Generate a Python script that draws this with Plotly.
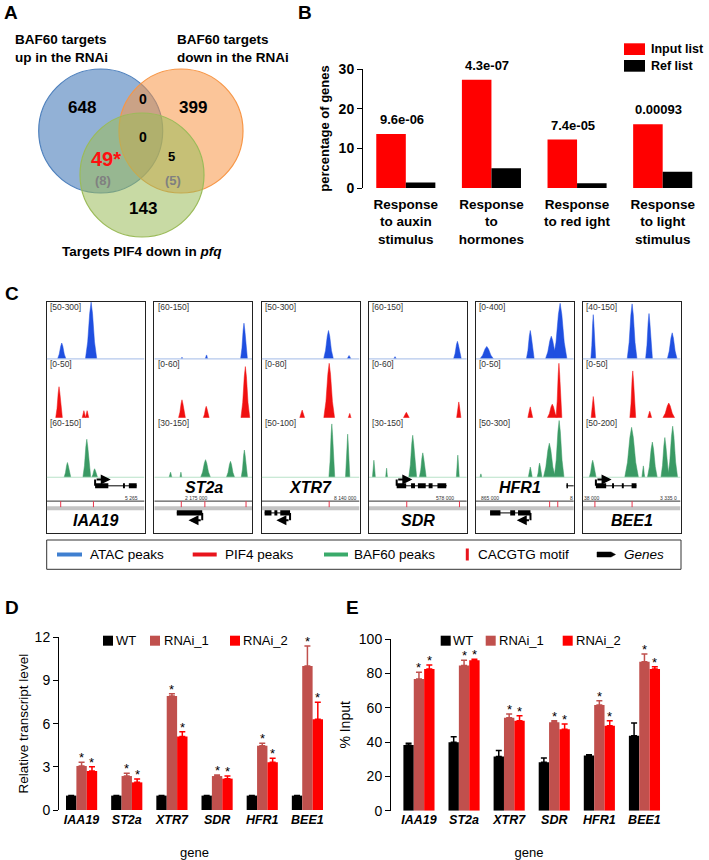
import plotly.graph_objects as go

FONT = "Arial, Liberation Sans, Helvetica, sans-serif"
W, H = 709, 860

# ---------------- Panel A data (Venn) ----------------
venn_set_labels = ["BAF60 targets<br>up in the RNAi",
                   "BAF60 targets<br>down in the RNAi",
                   "Targets PIF4 down in <i>pfq</i>"]
venn_region_counts = ["648", "0", "399", "0", "49*", "(8)", "5", "(5)", "143"]

# ---------------- Panel B data ----------------
go_terms = ["Response<br>to auxin<br>stimulus", "Response<br>to<br>hormones",
            "Response<br>to red ight", "Response<br>to light<br>stimulus"]
input_list_pct = [13.6, 27.3, 12.2, 16.1]
ref_list_pct = [1.4, 5.0, 1.2, 4.1]
enrich_pvalues = ["9.6e-06", "4.3e-07", "7.4e-05", "0.00093"]

# ---------------- Panel C data (genome browser) ----------------
c_genes = ["IAA19", "ST2a", "XTR7", "SDR", "HFR1", "BEE1"]
atac_ranges = ["[50-300]", "[60-150]", "[50-300]", "[60-150]", "[0-400]", "[40-150]"]
pif4_ranges = ["[0-50]", "[0-60]", "[0-80]", "[0-60]", "[0-50]", "[0-50]"]
baf60_ranges = ["[60-150]", "[30-150]", "[50-100]", "[30-150]", "[50-300]", "[50-200]"]
# peaks: (relative centre, half width, relative height)
atac_peaks = [
    [(0.154, 0.043, 0.28), (0.454, 0.058, 1.0)],
    [(0.283, 0.010, 0.03), (0.534, 0.014, 0.07), (0.917, 0.035, 0.63)],
    [(0.683, 0.050, 0.50), (0.893, 0.020, 0.06)],
    [(0.266, 0.015, 0.04), (0.904, 0.040, 0.31)],
    [(0.110, 0.070, 0.22), (0.555, 0.040, 0.50), (0.770, 0.060, 0.40), (0.860, 0.070, 0.98)],
    [(0.108, 0.025, 0.78), (0.505, 0.050, 0.97), (0.678, 0.035, 0.80), (0.915, 0.050, 0.46)],
]
pif4_peaks = [
    [(0.126, 0.034, 0.57), (0.380, 0.017, 0.13), (0.413, 0.017, 0.13)],
    [(0.283, 0.035, 0.33), (0.531, 0.030, 0.21), (0.931, 0.045, 0.94)],
    [(0.414, 0.025, 0.14), (0.690, 0.055, 1.00), (0.900, 0.015, 0.08)],
    [(0.382, 0.030, 0.10), (0.918, 0.022, 0.29)],
    [(0.555, 0.025, 0.20), (0.780, 0.050, 0.25), (0.848, 0.030, 1.00)],
    [(0.108, 0.022, 0.39), (0.512, 0.030, 0.86), (0.685, 0.020, 0.12), (0.880, 0.060, 0.27)],
]
baf60_peaks = [
    [(0.212, 0.034, 0.26), (0.410, 0.040, 0.67), (0.490, 0.030, 0.15)],
    [(0.166, 0.015, 0.09), (0.272, 0.010, 0.09), (0.524, 0.050, 0.31), (0.779, 0.042, 0.28), (0.921, 0.032, 0.48)],
    [(0.717, 0.030, 0.94), (0.879, 0.022, 0.76)],
    [(0.050, 0.015, 0.30), (0.180, 0.010, 0.16), (0.447, 0.040, 0.74), (0.550, 0.035, 0.43), (0.908, 0.015, 0.39)],
    [(0.050, 0.010, 0.06), (0.555, 0.020, 0.18), (0.650, 0.025, 0.25), (0.750, 0.060, 0.60), (0.850, 0.050, 1.00)],
    [(0.102, 0.035, 0.30), (0.500, 0.070, 0.88), (0.620, 0.015, 0.20), (0.712, 0.050, 0.62), (0.840, 0.040, 0.70), (0.920, 0.050, 0.90)],
]
cacgtg_motifs = [[0.143, 0.478], [0.276, 0.517, 0.938], [0.690], [0.386, 0.925], [0.753, 0.836], [0.125, 0.505]]
# gene models: (start, end, strand, row, exons)
gene_models = [
    [(0.495, 0.92, "+", "up", [(0.495, 0.63), (0.78, 0.80), (0.84, 0.92)])],
    [(0.23, 0.49, "-", "low", [(0.23, 0.49)])],
    [(0.03, 0.29, "-", "low", [(0.03, 0.10), (0.13, 0.16), (0.19, 0.29)])],
    [(0.283, 0.795, "+", "up", [(0.283, 0.38), (0.43, 0.47), (0.50, 0.58), (0.61, 0.65), (0.70, 0.79)])],
    [(0.144, 0.557, "-", "low", [(0.144, 0.25), (0.35, 0.40), (0.43, 0.557)]),
     (0.925, 1.0, ".", "up", [(0.925, 0.94)])],
    [(0.135, 0.55, "+", "up", [(0.135, 0.24), (0.30, 0.32), (0.40, 0.42), (0.50, 0.55)])],
]
gene_label_row = ["low", "up", "up", "low", "up", "low"]
gene_label_x = [0.50, 0.507, 0.50, 0.505, 0.45, 0.50]
ruler_labels = [[(0.87, "5 265")], [(0.43, "2 175 000")], [(0.85, "8 140 000")],
                [(0.78, "578 000")], [(0.14, "865 000"), (0.98, "8")], [(0.10, "38 000"), (0.88, "3 335 0")]]

# ---------------- Panels D / E data ----------------
genes = ["IAA19", "ST2a", "XTR7", "SDR", "HFR1", "BEE1"]
d_wt = [1.0, 1.0, 1.0, 1.0, 1.0, 1.0]
d_wt_err = [0.0, 0.0, 0.0, 0.0, 0.0, 0.0]
d_rnai1 = [3.06, 2.36, 7.92, 2.36, 4.47, 10.0]
d_rnai1_err = [0.25, 0.19, 0.16, 0.07, 0.16, 1.40]
d_rnai2 = [2.71, 1.92, 5.10, 2.18, 3.31, 6.30]
d_rnai2_err = [0.30, 0.23, 0.34, 0.18, 0.28, 1.18]

e_wt = [38.3, 39.8, 31.5, 28.2, 32.2, 43.7]
e_wt_err = [1.0, 3.3, 3.5, 2.5, 0.4, 7.4]
e_rnai1 = [76.7, 84.5, 54.2, 51.5, 61.6, 86.8]
e_rnai1_err = [3.9, 3.1, 2.1, 0.9, 2.5, 4.5]
e_rnai2 = [82.5, 87.6, 52.4, 47.4, 49.5, 82.5]
e_rnai2_err = [2.4, 0.6, 2.9, 3.1, 2.9, 1.4]
series_names = ["WT", "RNAi_1", "RNAi_2"]


def PX(x):
    return x / W


def PY(y):
    return 1 - y / H


fig = go.Figure()
shapes = []
annots = []
layout_axes = {}


def hidden(**kw):
    d = dict(visible=False, showgrid=False, zeroline=False, fixedrange=True, automargin=False)
    d.update(kw)
    return d


def ptext(x, y, text, size, xanchor="left", **kw):
    d = dict(x=PX(x), y=PY(y), xref="paper", yref="paper", text=text, showarrow=False, borderpad=0,
             xanchor=xanchor, yanchor="middle", font=dict(family=FONT, size=size, color=kw.pop("color", "black")))
    d.update(kw)
    annots.append(d)


# ================= Panel A =================
layout_axes["xaxis"] = hidden(domain=[0, PX(300)], range=[0, 300])
layout_axes["yaxis"] = hidden(domain=[PY(280), 1], range=[280, 0])
venn_circles = [((100.7, 131), "rgba(79,129,189,0.62)", "#4F81BD"),
                ((181, 131), "rgba(247,150,70,0.55)", "#F79646"),
                ((142, 175), "rgba(155,187,89,0.55)", "#9BBB59")]
R = 62
for (cx, cy), fc, lc in venn_circles:
    shapes.append(dict(type="circle", xref="x", yref="y", x0=cx - R, x1=cx + R, y0=cy - R, y1=cy + R,
                       fillcolor=fc, line=dict(color=lc, width=1.2), layer="above"))
venn_pos = [(81.7, 107.3, 17, "black"), (143.3, 99.3, 14, "black"), (193.3, 107.3, 17, "black"),
            (143.3, 136.7, 14, "black"), (106, 159.3, 20, "#FF1010"), (103.3, 180, 13, "#808080"),
            (171.7, 156.7, 13, "black"), (172.7, 180, 13, "#808080"), (142.7, 208.3, 17, "black")]
for txt, (x, y, s, c) in zip(venn_region_counts, venn_pos):
    annots.append(dict(x=x, y=y, xref="x", yref="y", text="<b>%s</b>" % txt, showarrow=False,
                       xanchor="center", yanchor="middle", font=dict(family=FONT, size=s, color=c)))
venn_lab_pos = [(13, 48.3, "left"), (175, 48.3, "left"), (141.7, 251.7, "center")]
for txt, (x, y, a) in zip(venn_set_labels, venn_lab_pos):
    annots.append(dict(x=x, y=y, xref="x", yref="y", text="<b>%s</b>" % txt, showarrow=False,
                       xanchor=a, yanchor="middle", align="left", font=dict(family=FONT, size=13.5, color="black")))

# ================= Panel B =================
fig.add_trace(go.Bar(x=go_terms, y=input_list_pct, name="Input list", marker=dict(color="#FF0000", line=dict(width=0)),
                     xaxis="x2", yaxis="y2", showlegend=False, hoverinfo="skip"))
fig.add_trace(go.Bar(x=go_terms, y=ref_list_pct, name="Ref list", marker=dict(color="#000000", line=dict(width=0)),
                     xaxis="x2", yaxis="y2", showlegend=False, hoverinfo="skip"))
layout_axes["xaxis2"] = dict(domain=[PX(363), PX(705.5)], type="category", showline=False, showgrid=False,
                             zeroline=False, ticks="", automargin=False,
                             tickfont=dict(family=FONT, size=13.5, color="black", weight="bold"),
                             anchor="y2", fixedrange=True, ticklabelstandoff=6)
layout_axes["yaxis2"] = dict(domain=[PY(188), PY(69)], range=[0, 30], tickvals=[0, 10, 20, 30], automargin=False,
                             showline=True, linecolor="black", linewidth=1, ticks="outside", ticklen=5,
                             tickcolor="black", showgrid=False, zeroline=False, anchor="x2", fixedrange=True,
                             tickfont=dict(family=FONT, size=14, color="black", weight="bold"),
                             title=dict(text="<b>percentage of genes</b>", standoff=6,
                                        font=dict(family=FONT, size=13, color="black")))
for t, v, p in zip(go_terms, input_list_pct, enrich_pvalues):
    annots.append(dict(x=t, y=v, xref="x2", yref="y2", text="<b>%s</b>" % p, showarrow=False,
                       yanchor="bottom", yshift=5, xshift=-4, font=dict(family=FONT, size=13, color="black")))
for (y0, y1, col, lab) in [(43.3, 55, "#FF0000", "Input list"), (60, 71.7, "#000000", "Ref list")]:
    shapes.append(dict(type="rect", xref="paper", yref="paper", x0=PX(624), x1=PX(645), y0=PY(y1), y1=PY(y0),
                       fillcolor=col, line=dict(width=0)))
    ptext(650, (y0 + y1) / 2, "<b>%s</b>" % lab, 12.5)

# ================= Panel C =================
panel_left = [46.7, 154.3, 261.7, 369.0, 476.0, 582.7]
box_w = 97.8
box_top, box_bot = 301.7, 533.3
tracks = [(atac_peaks, atac_ranges, 0.753, 0.245, "#1F4FE0", "#B5C8EC", 0.977),
          (pif4_peaks, pif4_ranges, 0.499, 0.235, "#F01010", None, 0.731),
          (baf60_peaks, baf60_ranges, 0.242, 0.245, "#3A9A64", "#B8E2C8", 0.478)]
prof = [0, 0.3, 0.8, 1.0, 0.8, 0.3, 0]
offs = [-1, -0.6, -0.25, 0, 0.25, 0.6, 1]
Y_UP_LINE, Y_UP_ARROW = 0.205, 0.232
Y_LO_LINE, Y_LO_ARROW = 0.088, 0.056
for k in range(6):
    n = k + 3
    xa, ya = "x%d" % n, "y%d" % n
    L = panel_left[k]
    layout_axes["xaxis%d" % n] = dict(domain=[PX(L), PX(L + box_w)], range=[0, 1], showline=True, mirror=True,
                                      linecolor="#222", linewidth=1, showticklabels=False, ticks="",
                                      showgrid=False, zeroline=False, anchor=ya, fixedrange=True, automargin=False)
    layout_axes["yaxis%d" % n] = dict(domain=[PY(box_bot), PY(box_top)], range=[0, 1], showline=True, mirror=True,
                                      linecolor="#222", linewidth=1, showticklabels=False, ticks="",
                                      showgrid=False, zeroline=False, anchor=xa, fixedrange=True, automargin=False)
    for peaks, ranges, base, scale, col, basecol, laby in tracks:
        if basecol:
            shapes.append(dict(type="line", xref=xa, yref=ya, x0=0, x1=1, y0=base, y1=base,
                               line=dict(color=basecol, width=1.2)))
        xs, ys = [], []
        for c, w, h in peaks[k]:
            xs += [c + o * w for o in offs] + [None]
            ys += [base + h * scale * p for p in prof] + [None]
        fig.add_trace(go.Scatter(x=xs, y=ys, xaxis=xa, yaxis=ya, mode="lines", fill="toself",
                                 fillcolor=col, line=dict(color=col, width=0.5), showlegend=False,
                                 hoverinfo="skip"))
        annots.append(dict(x=0.015, y=laby, xref=xa, yref=ya, text=ranges[k], showarrow=False, xanchor="left",
                           yanchor="middle", font=dict(family=FONT, size=8.5, color="#333")))
    # ruler, band, motifs
    shapes.append(dict(type="line", xref=xa, yref=ya, x0=0, x1=1, y0=0.139, y1=0.139, line=dict(color="#333", width=1)))
    shapes.append(dict(type="line", xref=xa, yref=ya, x0=0, x1=1, y0=0.108, y1=0.108, line=dict(color="#C4C4C4", width=4)))
    for m in cacgtg_motifs[k]:
        shapes.append(dict(type="line", xref=xa, yref=ya, x0=m, x1=m, y0=0.139, y1=0.113,
                           line=dict(color="#E8334A", width=1)))
    for rx, rt in ruler_labels[k]:
        annots.append(dict(x=rx, y=0.151, xref=xa, yref=ya, text=rt, showarrow=False, yanchor="middle",
                           font=dict(family=FONT, size=5, color="#333")))
    # gene models
    for (s, e, strand, row, exons) in gene_models[k]:
        yl = Y_UP_LINE if row == "up" else Y_LO_LINE
        ya_ = Y_UP_ARROW if row == "up" else Y_LO_ARROW
        shapes.append(dict(type="line", xref=xa, yref=ya, x0=s, x1=e, y0=yl, y1=yl, line=dict(color="black", width=1)))
        for a, b in exons:
            shapes.append(dict(type="rect", xref=xa, yref=ya, x0=a, x1=b, y0=yl - 0.011, y1=yl + 0.011,
                               fillcolor="black", line=dict(width=0)))
        if strand in ("+", "-"):
            tss = s if strand == "+" else e
            tip = tss + 0.16 if strand == "+" else tss - 0.14
            shapes.append(dict(type="line", xref=xa, yref=ya, x0=tss, x1=tss, y0=yl, y1=ya_,
                               line=dict(color="black", width=2)))
            annots.append(dict(x=tip, y=ya_, ax=tss, ay=ya_, xref=xa, yref=ya, axref=xa, ayref=ya,
                               showarrow=True, arrowhead=2, arrowsize=1, arrowwidth=2, arrowcolor="black", text=""))
    gy = 0.197 if gene_label_row[k] == "up" else 0.054
    annots.append(dict(x=gene_label_x[k], y=gy, xref=xa, yref=ya, text="<b><i>%s</i></b>" % c_genes[k],
                       showarrow=False, yanchor="middle", font=dict(family=FONT, size=16, color="black")))

# Legend box for C
shapes.append(dict(type="rect", xref="paper", yref="paper", x0=PX(46.7), x1=PX(681), y0=PY(569.3), y1=PY(540),
                   line=dict(color="#333", width=1), fillcolor="rgba(0,0,0,0)"))
ly = 554.5
for x0, x1, col, lab, tx in [(57, 82, "#3F7FD0", "ATAC peaks", 89.3), (192.7, 216.7, "#E8141C", "PIF4 peaks", 224),
                             (324, 348, "#3AAA6A", "BAF60 peaks", 353)]:
    shapes.append(dict(type="line", xref="paper", yref="paper", x0=PX(x0), x1=PX(x1), y0=PY(ly), y1=PY(ly),
                       line=dict(color=col, width=4)))
    ptext(tx, ly, lab, 13.5)
shapes.append(dict(type="line", xref="paper", yref="paper", x0=PX(467.3), x1=PX(467.3), y0=PY(560.5), y1=PY(548.5),
                   line=dict(color="#E8141C", width=3)))
ptext(476.7, ly, "CACGTG motif", 13.5)
shapes.append(dict(type="path", xref="paper", yref="paper",
                   path="M %f,%f L %f,%f L %f,%f L %f,%f L %f,%f Z" % (
                       PX(597), PY(ly - 2.5), PX(611), PY(ly - 2.5), PX(615.5), PY(ly), PX(611), PY(ly + 2.5),
                       PX(597), PY(ly + 2.5)),
                   fillcolor="black", line=dict(color="black", width=0.5)))
ptext(623, ly, "<i>Genes</i>", 13.5)

# ================= Panels D and E =================
bar_colors = ["#000000", "#C0504D", "#FF0000"]


def bar_panel(xa, ya, vals, errs, stars_off):
    for nm, v, e, col in zip(series_names, vals, errs, bar_colors):
        fig.add_trace(go.Bar(x=genes, y=v, name=nm, marker=dict(color=col, line=dict(width=0)),
                             error_y=dict(type="data", array=e, arrayminus=[0] * len(e), symmetric=False,
                                          color=col, thickness=1.5, width=3),
                             xaxis=xa, yaxis=ya, showlegend=False, hoverinfo="skip"))
    for si in (1, 2):
        for i in range(len(genes)):
            annots.append(dict(x=i + stars_off[si], y=vals[si][i] + errs[si][i], xref=xa, yref=ya, text="*",
                               showarrow=False, yanchor="bottom", yshift=-4, borderpad=0,
                               font=dict(family=FONT, size=13, color="black")))


w3 = (1 - 0.31) / 3
bar_panel("x9", "y9", [d_wt, d_rnai1, d_rnai2], [d_wt_err, d_rnai1_err, d_rnai2_err], [-w3, 0, w3])
bar_panel("x10", "y10", [e_wt, e_rnai1, e_rnai2], [e_wt_err, e_rnai1_err, e_rnai2_err], [-w3, 0, w3])

xcommon = dict(showline=False, showgrid=False, zeroline=False, ticks="", fixedrange=True, automargin=False,
               tickfont=dict(family=FONT, size=12.5, color="black", weight="bold", style="italic"),
               title=dict(text="gene", standoff=22, font=dict(family=FONT, size=13, color="black")))
ycommon = dict(showline=True, linecolor="black", linewidth=1, ticks="outside", ticklen=5, tickcolor="black",
               showgrid=False, zeroline=False, fixedrange=True, automargin=False,
               tickfont=dict(family=FONT, size=14, color="black"))
layout_axes["xaxis9"] = dict(domain=[PX(59), PX(330)], range=[-0.5, 5.5], anchor="y9", **xcommon)
layout_axes["yaxis9"] = dict(domain=[PY(810), PY(637.3)], range=[0, 12], tickvals=[0, 3, 6, 9, 12], anchor="x9",
                             title=dict(text="Relative transcript level", standoff=2,
                                        font=dict(family=FONT, size=13.5, color="black")), **ycommon)
layout_axes["xaxis10"] = dict(domain=[PX(391), PX(667)], range=[-0.62, 5.5], anchor="y10", **xcommon)
layout_axes["yaxis10"] = dict(domain=[PY(810.7), PY(639)], range=[0, 100], tickvals=[0, 20, 40, 60, 80, 100],
                              anchor="x10", title=dict(text="% Input", standoff=4,
                                                       font=dict(family=FONT, size=14, color="black")), **ycommon)

# manual legends for D and E
for sq, tx in [([103, 150, 230], [114.5, 162.5, 242]), ([440.7, 485.7, 562.7], [451.5, 498, 575])]:
    for nm, col, s, t in zip(series_names, bar_colors, sq, tx):
        shapes.append(dict(type="rect", xref="paper", yref="paper", x0=PX(s), x1=PX(s + 10), y0=PY(645.7),
                           y1=PY(635.7), fillcolor=col, line=dict(width=0)))
        ptext(t, 640.2, nm, 13)

# panel letters
for lab, x, y in [("A", 3, 13), ("B", 297, 13), ("C", 4, 293), ("D", 4, 607), ("E", 345, 607)]:
    ptext(x, y, "<b>%s</b>" % lab, 19)

fig.update_layout(width=W, height=H, margin=dict(l=0, r=0, t=0, b=0, autoexpand=False), paper_bgcolor="white",
                  plot_bgcolor="white", barmode="group", bargap=0.31, bargroupgap=0, hovermode=False,
                  shapes=shapes, annotations=annots, font=dict(family=FONT), showlegend=False, **layout_axes)
fig.write_html("out.html", config={"displayModeBar": False},
               post_script="document.body.style.margin='0';document.body.style.overflow='hidden';")
